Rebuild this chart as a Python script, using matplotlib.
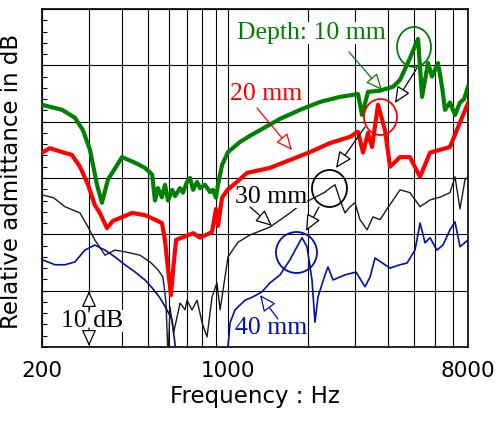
import matplotlib
matplotlib.use("Agg")
import matplotlib.pyplot as plt
from matplotlib.ticker import FixedLocator, NullFormatter, MultipleLocator, FixedFormatter
from matplotlib.patches import Ellipse
from matplotlib.transforms import IdentityTransform

# ---------------- data ----------------
f_10 = [200, 238, 266, 285, 303, 322, 336, 354, 400, 448, 488, 519, 532, 546, 565, 580, 596,
        617, 633, 661, 678, 702, 721, 740, 766, 786, 820, 857, 879, 902, 918, 951, 1001, 1111,
        1212, 1571, 1868, 2221, 2641, 3086, 3196, 3366, 3734, 4179, 4440, 4842, 5190, 5374,
        5659, 5858, 6170, 6400, 6556, 6843, 7149, 7465, 7729, 8000]
db_10 = [43.0, 42.1, 40.7, 38.5, 35.0, 28.8, 25.6, 29.7, 33.7, 32.7, 31.8, 30.6, 26.0, 28.2,
         26.6, 28.8, 26.0, 27.9, 26.8, 28.2, 27.4, 29.3, 30.0, 27.9, 29.3, 28.2, 28.8, 27.5,
         27.9, 26.5, 28.8, 32.3, 34.6, 36.4, 37.5, 40.5, 42.1, 43.5, 44.4, 44.9, 41.2, 45.3,
         45.5, 46.2, 47.4, 51.3, 54.7, 44.4, 50.4, 48.0, 50.4, 46.0, 42.1, 43.4, 41.2, 43.4,
         44.0, 46.2]

f_20 = [200, 214, 238, 259, 278, 298, 316, 330, 351, 370, 403, 436, 488, 532, 565, 580, 596,
        611, 625, 639, 678, 740, 786, 872, 902, 918, 951, 1001, 1064, 1180, 1441, 1713, 2037,
        2422, 2879, 3086, 3224, 3366, 3485, 3670, 3899, 4072, 4440, 4842, 5282, 5757, 6278,
        6843, 7337, 8000]
db_20 = [34.5, 35.3, 34.6, 34.1, 32.0, 28.8, 25.2, 23.8, 21.1, 22.4, 23.1, 23.8, 23.4, 22.6,
         22.0, 19.0, 13.7, 9.2, 14.6, 19.0, 19.5, 20.2, 19.4, 20.4, 24.5, 21.5, 26.5, 28.0,
         29.0, 30.9, 31.8, 33.2, 34.6, 36.2, 37.3, 38.2, 34.5, 38.0, 35.5, 43.0, 38.5, 32.0,
         33.7, 33.7, 30.2, 34.5, 35.0, 35.5, 39.0, 43.3]

f_30 = [200, 221, 244, 278, 298, 316, 345, 376, 410, 467, 510, 546, 570, 585, 596, 606, 625,
        661, 690, 702, 733, 766, 800, 835, 872, 910, 935, 1001, 1092, 1212, 1441, 1713, 1917,
        2037, 2319, 2422, 2529, 2641, 2757, 2879, 3007, 3140, 3338, 3515, 3734, 3968, 4440,
        4842, 5282, 5757, 6278, 6843, 7149, 7465, 7795, 8000]
db_30 = [27.0, 26.5, 24.9, 23.8, 21.3, 19.0, 16.3, 17.2, 16.9, 16.3, 15.1, 13.7, 12.4, 8.0,
         -2.0, 7.1, 2.5, 7.8, 6.6, 8.3, 6.6, 8.3, 4.3, 1.8, 8.9, 11.4, 6.6, 16.0, 18.6, 19.9,
         21.3, 23.8, 25.6, 26.1, 27.5, 28.2, 28.8, 26.1, 23.8, 24.9, 25.6, 22.6, 20.8, 23.1,
         22.6, 24.5, 27.9, 27.4, 24.9, 26.1, 26.6, 27.4, 30.2, 24.5, 29.7, 30.2]

f_40 = [200, 224, 244, 266, 290, 316, 345, 376, 410, 448, 488, 519, 556, 590, 617, 650, 800,
        985, 1019, 1064, 1160, 1243, 1344, 1441, 1571, 1713, 1820, 1900, 1984, 2072, 2126,
        2183, 2319, 2380, 2486, 2757, 3033, 3280, 3425, 3577, 4072, 4440, 4717, 5056, 5282,
        5515, 5757, 6116, 6443, 6843, 7149, 7465, 8000]
db_40 = [15.5, 14.6, 14.6, 15.1, 17.2, 18.1, 17.2, 16.0, 14.6, 13.3, 11.9, 10.5, 8.7, 6.6,
         4.8, -4.0, -10.0, -4.0, 4.3, 6.6, 8.3, 8.9, 9.8, 11.4, 12.8, 15.5, 17.8, 19.4, 17.8,
         11.9, 4.4, 8.9, 12.8, 14.2, 11.9, 12.8, 13.3, 10.7, 12.4, 15.8, 14.0, 14.6, 14.9,
         17.2, 22.0, 18.5, 19.4, 17.2, 18.1, 20.8, 22.2, 17.8, 19.0]

x_major = [200, 1000, 8000]
x_major_labels = ["200", "1000", "8000"]
x_minor = [300, 400, 500, 600, 700, 800, 900, 2000, 3000, 4000, 5000, 6000, 7000]

labels = ["Depth: 10 mm", "20 mm", "30 mm", "40 mm"]
colors = ["#008000", "#ff0000", "#1a1a1a", "#0010a8"]

# ---------------- figure ----------------
W, H = 496, 428
fig = plt.figure(figsize=(W / 100, H / 100), dpi=100)
ax = fig.add_axes([42 / W, (H - 347) / H, 426 / W, 338 / H])

ax.plot(f_40, db_40, color=colors[3], lw=1.2, zorder=3)
ax.plot(f_30, db_30, color=colors[2], lw=1.0, zorder=3)
ax.plot(f_20, db_20, color=colors[1], lw=3.0, zorder=4)
ax.plot(f_10, db_10, color=colors[0], lw=3.0, zorder=5)

ax.set_xscale("log")
ax.set_xlim(200, 8000)
ax.set_ylim(0, 60)

ax.xaxis.set_major_locator(FixedLocator(x_major))
ax.xaxis.set_major_formatter(FixedFormatter(x_major_labels))
ax.xaxis.set_minor_locator(FixedLocator(x_minor))
ax.xaxis.set_minor_formatter(NullFormatter())
ax.tick_params(axis="x", which="both", length=0, pad=10, labelsize=15.5)

ax.yaxis.set_major_locator(MultipleLocator(10))
ax.yaxis.set_minor_locator(MultipleLocator(2))
ax.yaxis.set_major_formatter(NullFormatter())
ax.tick_params(axis="y", which="both", direction="in", length=3.5, width=0.8, left=True, right=False)

ax.grid(True, which="major", axis="y", color="black", lw=0.8)
ax.grid(True, which="both", axis="x", color="black", lw=0.8)
for s in ax.spines.values():
    s.set_linewidth(1.2)

ax.set_xlabel("Frequency : Hz", fontsize=16.5, labelpad=3)
ax.set_ylabel("Relative admittance in dB", fontsize=16.5)
ax.yaxis.set_label_coords(-19 / 426, 0.49)

# ---------------- annotations (positions in image pixels) ----------------
def fp(x, y):
    return (x, H - y)

serif = ["Liberation Serif", "DejaVu Serif"]
txt = [(labels[0], 237, 39, colors[0]),
       (labels[1], 230, 100, colors[1]),
       (labels[2], 235, 203, "black"),
       (labels[3], 235, 334, colors[3]),
       ("10 dB", 61, 327, "black")]
for s, x, y, c in txt:
    ax.annotate(s, xy=fp(x, y), xycoords="figure pixels", ha="left", va="baseline",
                fontsize=18.5, family=serif, color=c, zorder=10, annotation_clip=False,
                bbox=dict(fc="white", ec="none", pad=0))

arrows = [((349, 52), (382, 90), colors[0]),
          ((417, 68), (395, 103), "black"),
          ((257, 108), (292, 150), colors[1]),
          ((365, 127), (336, 168), "black"),
          ((250, 207), (272, 226), "black"),
          ((319, 207), (306, 231), "black"),
          ((278, 319), (260, 295), colors[3]),
          ((89, 312), (89, 291), "black"),
          ((89, 328), (89, 346), "black")]
for (x0, y0), (x1, y1), c in arrows:
    ax.annotate("", xy=fp(x1, y1), xycoords="figure pixels",
                xytext=fp(x0, y0), textcoords="figure pixels",
                arrowprops=dict(arrowstyle="-|>,head_length=1.0,head_width=0.45",
                                mutation_scale=10, fc="white", ec=c, lw=0.9,
                                shrinkA=0, shrinkB=0),
                zorder=11, annotation_clip=False)

circles = [((414, 47), 34, 40, colors[0]),
           ((380.5, 117), 33, 36, colors[1]),
           ((329.5, 188.5), 35, 37, "black"),
           ((296.5, 252.5), 41, 41, colors[3])]
for (cx, cy), w, h, c in circles:
    e = Ellipse(fp(cx, cy), w, h, transform=IdentityTransform(), fill=False,
                ec=c, lw=1.3, zorder=12, clip_on=False)
    fig.add_artist(e)

fig.savefig("out.png", dpi=100)
